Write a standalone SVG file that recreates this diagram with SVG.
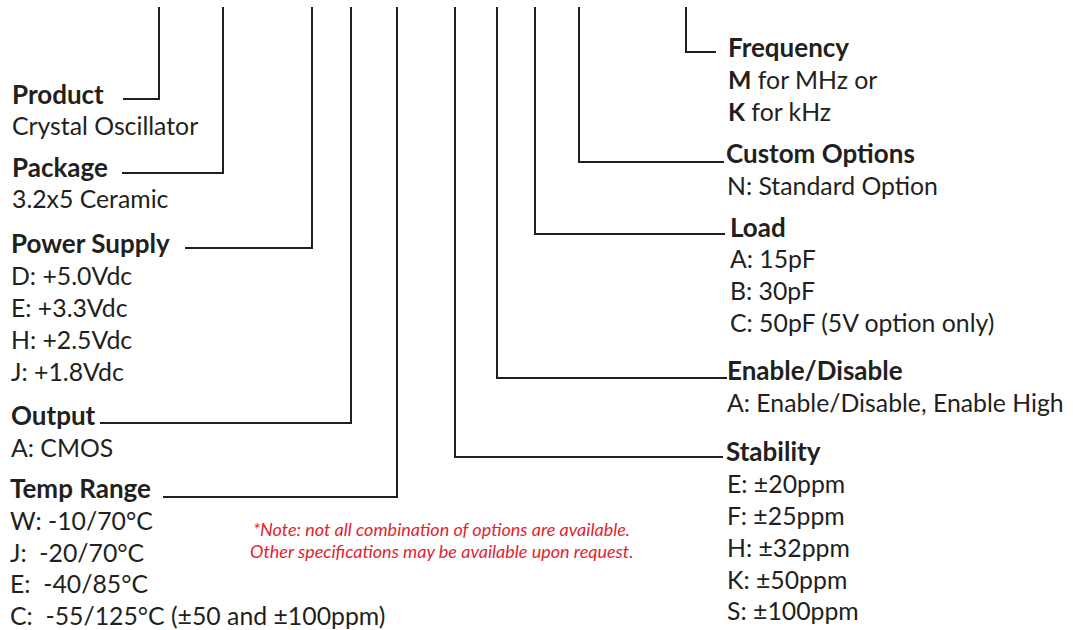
<svg xmlns="http://www.w3.org/2000/svg" width="1073" height="630" viewBox="0 0 1073 630">
<style>
text{font-family:Lato,"Open Sans",sans-serif;fill:#231f20;font-size:24.8px;white-space:pre}
.h{font-weight:bold;font-size:26px}
.b{font-weight:bold}
.note{fill:#e2242d;font-style:italic;font-size:18px}
.c{fill:none;stroke:#231f20;stroke-width:2}
</style>
<rect width="1073" height="630" fill="#ffffff"/>
<g id="connectors">
<polyline class="c" points="159,7 159,99 123,99"/>
<polyline class="c" points="223,7 223,173 122,173"/>
<polyline class="c" points="312,7 312,248 185,248"/>
<polyline class="c" points="351,7 351,423 100,423"/>
<polyline class="c" points="397,7 397,497 163,497"/>
<polyline class="c" points="455,7 455,457 723,457"/>
<polyline class="c" points="497,7 497,378 727,378"/>
<polyline class="c" points="535,7 535,234 725,234"/>
<polyline class="c" points="579,7 579,162 724,162"/>
<polyline class="c" points="686,7 686,52 716,52"/>
</g>
<g id="product"><text class="h" x="12" y="104">Product</text><text x="12" y="135">Crystal Oscillator</text></g>
<g id="package"><text class="h" x="12" y="177">Package</text><text x="12" y="208">3.2x5 Ceramic</text></g>
<g id="power-supply"><text class="h" x="11" y="253">Power Supply</text><text x="11" y="285">D: +5.0Vdc</text><text x="11" y="317">E: +3.3Vdc</text><text x="11" y="349">H: +2.5Vdc</text><text x="11" y="381">J: +1.8Vdc</text></g>
<g id="output"><text class="h" x="11" y="425">Output</text><text x="11" y="457">A: CMOS</text></g>
<g id="temp-range"><text class="h" x="10" y="498">Temp Range</text><text x="10" y="530">W: -10/70°C</text><text x="10" y="562">J:  -20/70°C</text><text x="10" y="593">E:  -40/85°C</text><text x="10" y="625">C:  -55/125°C (±50 and ±100ppm)</text></g>
<g id="frequency"><text class="h" x="728" y="57">Frequency</text><text x="728" y="89"><tspan class="b">M</tspan> for MHz or</text><text x="728" y="121"><tspan class="b">K</tspan> for kHz</text></g>
<g id="custom-options"><text class="h" x="726" y="163">Custom Options</text><text x="727" y="195">N: Standard Option</text></g>
<g id="load"><text class="h" x="730" y="237">Load</text><text x="730" y="268">A: 15pF</text><text x="730" y="300">B: 30pF</text><text x="730" y="332">C: 50pF (5V option only)</text></g>
<g id="enable-disable"><text class="h" x="727" y="380">Enable/Disable</text><text x="727" y="412">A: Enable/Disable, Enable High</text></g>
<g id="stability"><text class="h" x="726" y="461">Stability</text><text x="727" y="493">E: ±20ppm</text><text x="727" y="525">F: ±25ppm</text><text x="727" y="557">H: ±32ppm</text><text x="727" y="589">K: ±50ppm</text><text x="727" y="620">S: ±100ppm</text></g>
<g id="note"><text class="note" x="253" y="536">*Note: not all combination of options are available.</text><text class="note" x="250" y="558">Other specifications may be available upon request.</text></g>
</svg>
